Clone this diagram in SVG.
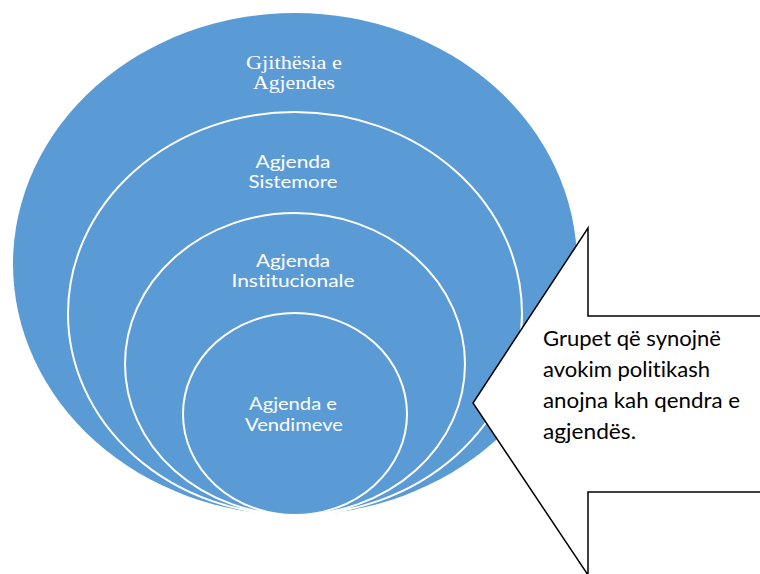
<svg xmlns="http://www.w3.org/2000/svg" width="760" height="574" viewBox="0 0 760 574">
<style>
.ring{fill:#5B9BD5;stroke:#FFFFFF;stroke-width:2}
.outer{fill:#5B9BD5;stroke:none}
.lbl{font-family:Lato,"Liberation Sans",sans-serif;font-size:16.5px;fill:#FFFFFF;text-anchor:middle;font-variant-ligatures:none}
.serif{font-family:"Liberation Serif",serif;font-size:18px;fill:#FFFFFF;text-anchor:middle}
.call{fill:#FFFFFF;stroke:#000000;stroke-width:1.5;stroke-linejoin:miter}
.ctext{font-family:Lato,"Liberation Sans",sans-serif;font-size:20.5px;fill:#000000;font-variant-ligatures:none}
</style>
<rect width="760" height="574" fill="#FFFFFF"/>
<g id="node-gjithesia">
<ellipse class="outer" cx="295" cy="264" rx="282" ry="251"/>
<text class="serif" x="294" y="69" textLength="96" lengthAdjust="spacingAndGlyphs">Gjithësia e</text>
<text class="serif" x="294" y="89" textLength="82" lengthAdjust="spacingAndGlyphs">Agjendes</text>
</g>
<g id="node-sistemore">
<ellipse class="ring" cx="295" cy="313.5" rx="227" ry="201.5"/>
<text class="lbl" x="293" y="168" textLength="75" lengthAdjust="spacingAndGlyphs">Agjenda</text>
<text class="lbl" x="293" y="188" textLength="89" lengthAdjust="spacingAndGlyphs">Sistemore</text>
</g>
<g id="node-institucionale">
<ellipse class="ring" cx="295" cy="364" rx="170" ry="151"/>
<text class="lbl" x="293" y="267" textLength="74" lengthAdjust="spacingAndGlyphs">Agjenda</text>
<text class="lbl" x="293" y="287" textLength="123" lengthAdjust="spacingAndGlyphs">Institucionale</text>
</g>
<g id="node-vendimeve">
<ellipse class="ring" cx="295" cy="414" rx="112" ry="101"/>
<text class="lbl" x="293" y="410" textLength="88" lengthAdjust="spacingAndGlyphs">Agjenda e</text>
<text class="lbl" x="294" y="431" textLength="98" lengthAdjust="spacingAndGlyphs">Vendimeve</text>
</g>
<g id="node-callout">
<polygon class="call" points="762,316 588,316 588,228 473,403 588,575 588,492 762,492"/>
<text class="ctext" x="543" y="346" textLength="178" lengthAdjust="spacingAndGlyphs">Grupet që synojnë</text>
<text class="ctext" x="543" y="377" textLength="167" lengthAdjust="spacingAndGlyphs">avokim politikash</text>
<text class="ctext" x="543" y="408" textLength="197" lengthAdjust="spacingAndGlyphs">anojna kah qendra e</text>
<text class="ctext" x="543" y="439" textLength="93" lengthAdjust="spacingAndGlyphs">agjendës.</text>
</g>
<g id="connectors"></g>
</svg>
